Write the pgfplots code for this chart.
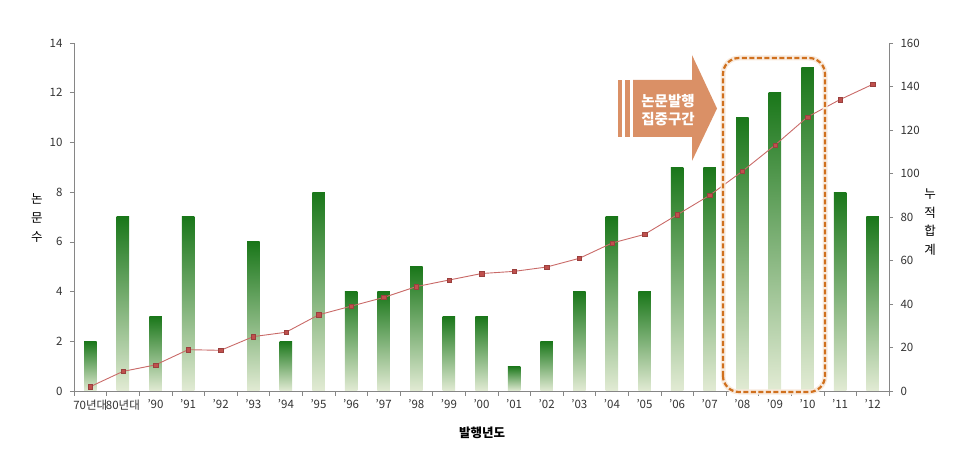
\documentclass[border=0pt]{standalone}
\usepackage{fontspec}
\setmainfont{Noto Sans CJK KR}
\usepackage{pgfplots}
\usepackage{pgfplotstable}
\pgfplotsset{compat=1.18}

\definecolor{bartop}{HTML}{1A771A}
\definecolor{barmid}{HTML}{86B257}
\definecolor{barbot}{HTML}{E2EBD4}
\definecolor{linec}{HTML}{C0504D}
\definecolor{arrowc}{HTML}{DA9066}
\definecolor{dashc}{HTML}{D0701E}
\definecolor{axisgray}{HTML}{868686}

\pgfplotstableread{
idx cum
0 2
1 9
2 12
3 19
4 18.7
5 25
6 27
7 35
8 39
9 43
10 48
11 51
12 54
13 55
14 57
15 61
16 68
17 72
18 81
19 90
20 101
21 113
22 126
23 134
24 141
}\cumtable

\begin{document}
\begin{tikzpicture}
\path[use as bounding box] (-74bp,-71bp) rectangle (891bp,391bp);
\pgfplotsset{
  common/.style={
    at={(0,0)}, anchor=south west,
    scale only axis, width=815bp, height=348bp,
    xmin=-0.5, xmax=24.5,
    axis line style={axisgray, line width=0.8pt},
    tick style={axisgray, line width=0.6pt},
    tick align=outside,
    major tick length=4bp, minor tick length=5bp,
    tick label style={font=\fontsize{11.5bp}{14bp}\selectfont, text=black!80},
    /pgf/number format/assume math mode=true,
  },
  gbar/.style={ybar, bar width=12.5bp, bar shift=0pt, draw=none,
    top color=bartop, middle color=barmid, bottom color=barbot},
}
\begin{axis}[common,
  ymin=0, ymax=14,
  axis x line*=bottom, axis y line*=left,
  ytick={0,2,...,14},
  xtick={0,...,24},
  xticklabels={70년대,80년대,'90,'91,'92,'93,'94,'95,'96,'97,'98,'99,'00,'01,'02,'03,'04,'05,'06,'07,'08,'09,'10,'11,'12},
  major x tick style={draw=none},
  minor xtick={-0.5,0.5,...,24.5},
  xticklabel style={yshift=-1bp},
  yticklabel style={xshift=-4bp},
]
% one plot per bar so that each bar gets its own gradient
\addplot[gbar] coordinates {(0,2)};
\addplot[gbar] coordinates {(1,7)};
\addplot[gbar] coordinates {(2,3)};
\addplot[gbar] coordinates {(3,7)};
\addplot[gbar] coordinates {(5,6)};
\addplot[gbar] coordinates {(6,2)};
\addplot[gbar] coordinates {(7,8)};
\addplot[gbar] coordinates {(8,4)};
\addplot[gbar] coordinates {(9,4)};
\addplot[gbar] coordinates {(10,5)};
\addplot[gbar] coordinates {(11,3)};
\addplot[gbar] coordinates {(12,3)};
\addplot[gbar] coordinates {(13,1)};
\addplot[gbar] coordinates {(14,2)};
\addplot[gbar] coordinates {(15,4)};
\addplot[gbar] coordinates {(16,7)};
\addplot[gbar] coordinates {(17,4)};
\addplot[gbar] coordinates {(18,9)};
\addplot[gbar] coordinates {(19,9)};
\addplot[gbar] coordinates {(20,11)};
\addplot[gbar] coordinates {(21,12)};
\addplot[gbar] coordinates {(22,13)};
\addplot[gbar] coordinates {(23,8)};
\addplot[gbar] coordinates {(24,7)};
\end{axis}
\begin{axis}[common,
  ymin=0, ymax=160,
  axis y line*=right, axis x line=none,
  ytick={0,20,...,160},
  yticklabel style={xshift=4bp},
]
\addplot[linec!85, line width=0.9pt, mark=square*, mark size=2.2bp,
  mark options={fill=linec, draw=linec!80!black, line width=0.4pt}]
  table[x=idx, y=cum]{\cumtable};
\end{axis}

% axis titles
\node[font=\fontsize{12.5bp}{15bp}\selectfont\bfseries] at (408bp,-42bp) {발행년도};
\node[font=\fontsize{12.5bp}{19bp}\selectfont, align=center] at (-37bp,173bp) {논\\문\\수};
\node[font=\fontsize{12.5bp}{18.5bp}\selectfont, align=center] at (856bp,169bp) {누\\적\\합\\계};

% concentration box
\draw[dashc!15, line width=5bp, rounded corners=16bp] (649bp,-1bp) rectangle (751bp,333bp);
\draw[dashc, line width=2.2bp, dash pattern=on 5bp off 2.5bp, rounded corners=16bp] (649bp,-1bp) rectangle (751bp,333bp);

% arrow
\fill[arrowc] (543.7bp,254bp) rectangle (547.7bp,311bp);
\fill[arrowc] (550.5bp,254bp) rectangle (556bp,311bp);
\fill[arrowc] (559bp,254bp) -- (618bp,254bp) -- (618bp,230bp) -- (643bp,282.5bp) -- (618bp,336bp) -- (618bp,311bp) -- (559bp,311bp) -- cycle;
\node[text=white, font=\fontsize{14.5bp}{18bp}\selectfont\bfseries, align=center] at (594bp,281bp) {논문발행\\집중구간};
\end{tikzpicture}
\end{document}
